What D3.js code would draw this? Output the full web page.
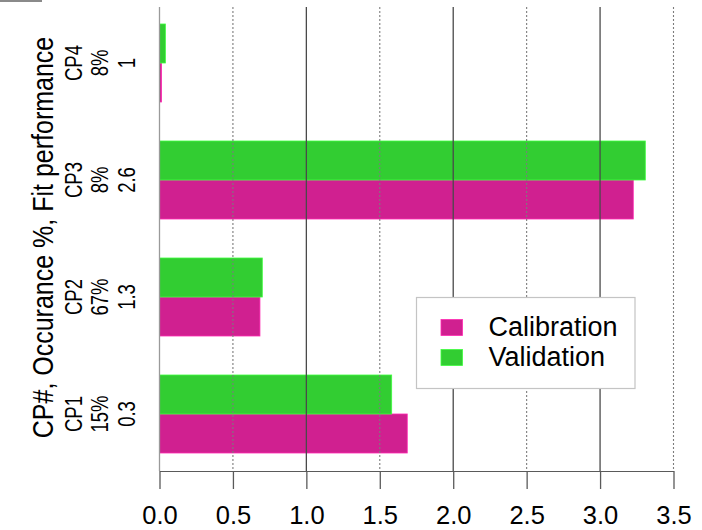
<!DOCTYPE html>
<html>
<head>
<meta charset="utf-8">
<script src="https://cdn.jsdelivr.net/npm/d3@7"></script>
<style>
  html, body { margin: 0; padding: 0; background: #fff; }
  svg { display: block; font-family: "Liberation Sans", Arial, sans-serif; }
</style>
</head>
<body>
<svg id="chart" width="702" height="530"></svg>
<script>
// Change-point groups, their occurrence share and fit performance
const categories = ["CP1", "CP2", "CP3", "CP4"];
const occurrence = ["15%", "67%", "8%", "8%"];
const fitPerformance = ["0.3", "1.3", "2.6", "1"];

// Series values per group
const seriesNames = ["Calibration", "Validation"];
const calibration = [1.687, 0.684, 3.226, 0.014];
const validation = [1.581, 0.700, 3.308, 0.040];
const seriesColors = ["#D02090", "#32CD32"];

// Axis ticks
const xTicks = [0, 0.5, 1, 1.5, 2, 2.5, 3, 3.5];

const svg = d3.select("#chart");

const plotTop = 7, axisY = 471;
const x = d3.scaleLinear().domain([0, 3.5]).range([159.5, 673.5]);

// Groups stacked from the top: CP4 first, CP1 at the bottom
const y = d3.scaleBand()
  .domain(categories.slice().reverse())
  .range([24, 453])
  .paddingInner(1 / 3)
  .paddingOuter(0);

// Within a group Validation sits above Calibration
const ySub = d3.scaleBand()
  .domain(["Validation", "Calibration"])
  .range([0, y.bandwidth()]);

const color = d3.scaleOrdinal().domain(seriesNames).range(seriesColors);

const rows = [];
categories.forEach((c, i) => {
  rows.push({ cat: c, series: "Calibration", value: calibration[i] });
  rows.push({ cat: c, series: "Validation", value: validation[i] });
});

// small rule in the top-left corner
svg.append("rect").attr("x", 0).attr("y", 0).attr("width", 42).attr("height", 2).attr("fill", "#8a8a8a");

// Bars
svg.append("g").selectAll("rect")
  .data(rows)
  .join("rect")
  .attr("x", x(0))
  .attr("y", d => y(d.cat) + ySub(d.series))
  .attr("width", d => x(d.value) - x(0))
  .attr("height", ySub.bandwidth())
  .attr("fill", d => color(d.series))
  .attr("stroke", d => d3.color(color(d.series)).brighter(0.6))
  .attr("stroke-width", 0.8);

// Grid lines drawn over the bars: solid on whole numbers, dotted on halves
const grid = svg.append("g");
grid.selectAll("line")
  .data(xTicks)
  .join("line")
  .attr("x1", d => x(d)).attr("x2", d => x(d))
  .attr("y1", plotTop).attr("y2", axisY)
  .attr("stroke", d => d === 0 ? "#9a9a9a" : (Number.isInteger(d) ? "#4a4a4a" : "#7c7c7c"))
  .attr("stroke-width", d => Number.isInteger(d) ? 1.3 : 1.1)
  .attr("stroke-dasharray", d => Number.isInteger(d) ? null : "2,2");

// Bottom axis
const xAxis = d3.axisBottom(x)
  .tickValues(xTicks)
  .tickFormat(d3.format(".1f"))
  .tickSize(18)
  .tickSizeOuter(0);

const gx = svg.append("g")
  .attr("transform", `translate(0,${axisY})`)
  .call(xAxis);
gx.select(".domain").attr("stroke", "#5a5a5a").attr("stroke-width", 1.2);
gx.selectAll(".tick line").attr("stroke", "#5a5a5a").attr("stroke-width", 1.3);
gx.selectAll(".tick text")
  .attr("y", 53).attr("dy", 0)
  .attr("fill", "#000")
  .style("font-size", "25.5px")
  .style("font-family", "'Liberation Sans', Arial, sans-serif");

// Vertical axis title
svg.append("text")
  .attr("transform", "translate(53,237.5) scale(1.2,1) rotate(-90)")
  .attr("text-anchor", "middle")
  .style("font-size", "25px")
  .attr("fill", "#000")
  .text("CP#, Occurance %, Fit performance");

// Three-line group labels
const labelLines = [categories, occurrence, fitPerformance];
const lineBaselines = [82.3, 108.3, 135];
labelLines.forEach((arr, li) => {
  svg.append("g").selectAll("text")
    .data(categories.map((c, i) => ({ cat: c, text: arr[i] })))
    .join("text")
    .attr("transform", d => `translate(${lineBaselines[li]},${y(d.cat) + y.bandwidth() / 2}) scale(1.25,1) rotate(-90)`)
    .attr("text-anchor", "middle")
    .style("font-size", "18.5px")
    .attr("fill", "#000")
    .text(d => d.text);
});

// Legend
const legend = svg.append("g");
legend.append("rect")
  .attr("x", 416.5).attr("y", 297.5)
  .attr("width", 218.5).attr("height", 91)
  .attr("fill", "#fff")
  .attr("stroke", "#c4c4c4")
  .attr("stroke-width", 1.2);

const legendRows = [
  { name: seriesNames[0], swatchY: 319.5, baseline: 336 },
  { name: seriesNames[1], swatchY: 349.5, baseline: 366 }
];
legend.selectAll("rect.sw")
  .data(legendRows)
  .join("rect")
  .attr("class", "sw")
  .attr("x", 441).attr("y", d => d.swatchY)
  .attr("width", 21.5).attr("height", 16)
  .attr("fill", d => color(d.name))
  .attr("stroke", d => d3.color(color(d.name)).brighter(0.6))
  .attr("stroke-width", 0.8);
legend.selectAll("text")
  .data(legendRows)
  .join("text")
  .attr("x", 488.5).attr("y", d => d.baseline)
  .style("font-size", "27px")
  .attr("fill", "#000")
  .text(d => d.name);
</script>
</body>
</html>
